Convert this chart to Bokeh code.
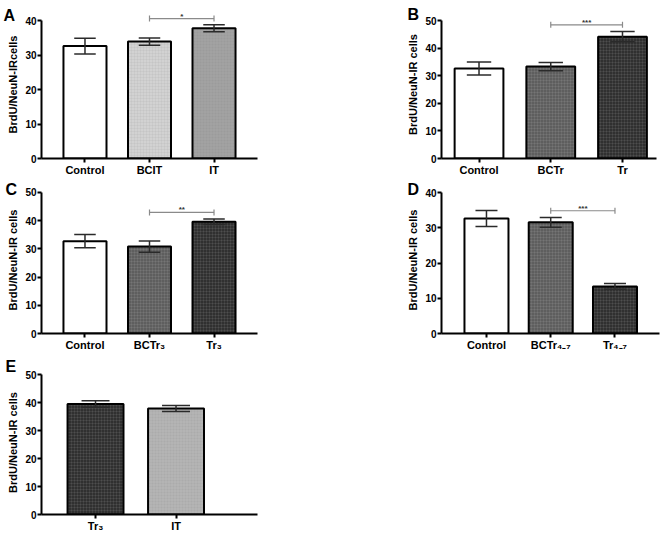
from bokeh.plotting import figure
from bokeh.layouts import column, row
from bokeh.models import Range1d, FixedTicker, Label, ColumnDataSource
from bokeh.embed import file_html
from bokeh.resources import INLINE
from bokeh.core.properties import value

FONT = "Liberation Sans"

# ---------------- data ----------------
a_labels = ["Control", "BCIT", "IT"]
a_means = [32.7, 34.0, 37.9]
a_sems = [2.3, 1.05, 1.0]
a_sig = (1, 2, 40.7, "*")

b_labels = ["Control", "BCTr", "Tr"]
b_means = [32.7, 33.4, 44.3]
b_sems = [2.35, 1.5, 1.85]
b_sig = (1, 2, 48.6, "***")

c_labels = ["Control", "BCTr\u2083", "Tr\u2083"]
c_means = [32.7, 30.8, 39.6]
c_sems = [2.35, 2.0, 0.95]
c_sig = (1, 2, 42.9, "**")

d_labels = ["Control", "BCTr\u2084\u208b\u2087", "Tr\u2084\u208b\u2087"]
d_means = [32.7, 31.6, 13.4]
d_sems = [2.3, 1.4, 0.85]
d_sig = (1, 2, 34.9, "***")

e_labels = ["Tr\u2083", "IT"]
e_means = [39.6, 38.0]
e_sems = [1.15, 1.05]

y_label_a = "BrdU/NeuN-IRcells"
y_label = "BrdU/NeuN-IR cells"

# ---------------- styles ----------------
WHITE, LIGHT, MID, DARK, BLACKISH, LIGHT2 = "#ffffff", "#d2d2d2", "#a2a2a2", "#5e5e5e", "#303030", "#b4b4b4"


def panel(labels, means, sems, fills, ylabel, y_top, y_end,
          x_start, x_end, bar_w, width, height, left, right, top, bottom, sig=None):
    n = len(labels)
    xs = list(range(n))
    p = figure(width=width, height=height, output_backend="svg", toolbar_location=None,
               x_range=Range1d(x_start, x_end), y_range=Range1d(0, y_end),
               min_border_left=left, min_border_right=right,
               min_border_top=top, min_border_bottom=bottom)
    p.outline_line_color = None
    p.xgrid.visible = False
    p.ygrid.visible = False
    p.background_fill_color = "white"

    hatch_cols = ["#ffffff" if f in (DARK, BLACKISH) else "#777777" for f in fills]
    hatch_pat = [" " if f == WHITE else "+" for f in fills]
    src = ColumnDataSource(dict(
        x=xs, top=means, fill=fills, hc=hatch_cols, hp=hatch_pat,
        lo=[m - s for m, s in zip(means, sems)],
        hi=[m + s for m, s in zip(means, sems)],
        cl=[x - bar_w / 4 for x in xs], cr=[x + bar_w / 4 for x in xs],
    ))
    p.vbar(x="x", top="top", width=bar_w, source=src, fill_color="fill",
           line_color="black", line_width=2,
           hatch_pattern="hp", hatch_color="hc", hatch_alpha=0.13,
           hatch_scale=3, hatch_weight=0.6)
    ec = "#2a2a2a"
    p.segment(x0="x", y0="lo", x1="x", y1="hi", source=src, line_color=ec, line_width=1.5)
    p.segment(x0="cl", y0="hi", x1="cr", y1="hi", source=src, line_color=ec, line_width=1.5)
    p.segment(x0="cl", y0="lo", x1="cr", y1="lo", source=src, line_color=ec, line_width=1.5)

    if sig is not None:
        i0, i1, yb, stars = sig
        p.segment(x0=[i0], y0=[yb], x1=[i1], y1=[yb], line_color="#8a8a8a", line_width=1.2)
        p.scatter(x=[i0, i1], y=[yb, yb], marker="dash", angle=1.5708, size=6,
                  line_color="#8a8a8a", line_width=1.2)
        p.text(x=[(i0 + i1) / 2], y=[yb], text=[stars], text_align="center",
               text_baseline="bottom", text_font=value(FONT), text_font_size="8px",
               text_font_style="bold", text_color="#333333", y_offset=2)

    for ax in (p.xaxis[0], p.yaxis[0]):
        ax.axis_line_width = 2
        ax.axis_line_color = "black"
        ax.major_tick_line_width = 2
        ax.major_tick_line_color = "black"
        ax.minor_tick_line_color = None
        ax.major_tick_in = 0
        ax.major_tick_out = 4
        ax.major_label_text_font = FONT
        ax.major_label_text_font_style = "bold"
        ax.major_label_text_color = "black"

    yax = p.yaxis[0]
    yax.bounds = (0, y_top)
    yax.ticker = FixedTicker(ticks=list(range(0, y_top + 1, 10)))
    yax.major_label_text_font_size = "10px"
    yax.major_label_standoff = 1
    yax.axis_label = ylabel
    yax.axis_label_text_font = FONT
    yax.axis_label_text_font_style = "bold"
    yax.axis_label_text_font_size = "11px"
    yax.axis_label_text_color = "black"
    yax.axis_label_standoff = 3

    xax = p.xaxis[0]
    xax.ticker = FixedTicker(ticks=xs)
    xax.major_label_overrides = {i: lab for i, lab in zip(xs, labels)}
    xax.major_label_text_font_size = "11px"
    xax.major_label_standoff = 1
    return p


def add_letter(p, text, side, x, y):
    p.add_layout(Label(text=text, x=x, y=y, x_units="screen", y_units="screen",
                       text_font=FONT, text_font_size="16px", text_font_style="bold",
                       text_color="black", text_align="left", text_baseline="alphabetic"),
                 side)


pA = panel(a_labels, a_means, a_sems, [WHITE, LIGHT, MID], y_label_a, 40, 43.05,
           -0.674, 2.674, 0.667, 331, 178, 41, 74, 10, 17, a_sig)
pB = panel(b_labels, b_means, b_sems, [WHITE, DARK, BLACKISH], y_label, 50, 53.8,
           -0.523, 2.474, 0.68, 331, 178, 110, 6, 10, 17, b_sig)
pC = panel(c_labels, c_means, c_sems, [WHITE, DARK, BLACKISH], y_label, 50, 52.1,
           -0.674, 2.674, 0.667, 331, 177, 41, 74, 8, 22, c_sig)
pD = panel(d_labels, d_means, d_sems, [WHITE, DARK, BLACKISH], y_label, 40, 41.8,
           -0.70, 2.693, 0.685, 331, 177, 110, 3, 8, 22, d_sig)
pE = panel(e_labels, e_means, e_sems, [BLACKISH, LIGHT2], y_label, 50, 51.6,
           -0.671, 2.012, 0.695, 331, 180, 41, 74, 15, 21, None)

add_letter(pA, "A", "right", -254, 143)
add_letter(pB, "B", "left", 15, 144)
add_letter(pC, "C", "right", -252, 144)
add_letter(pD, "D", "left", 15, 144)
add_letter(pE, "E", "right", -252, 148)

layout = column(row(pA, pB), row(pC, pD), pE)

with open("out.html", "w") as f:
    f.write(file_html(layout, INLINE))
